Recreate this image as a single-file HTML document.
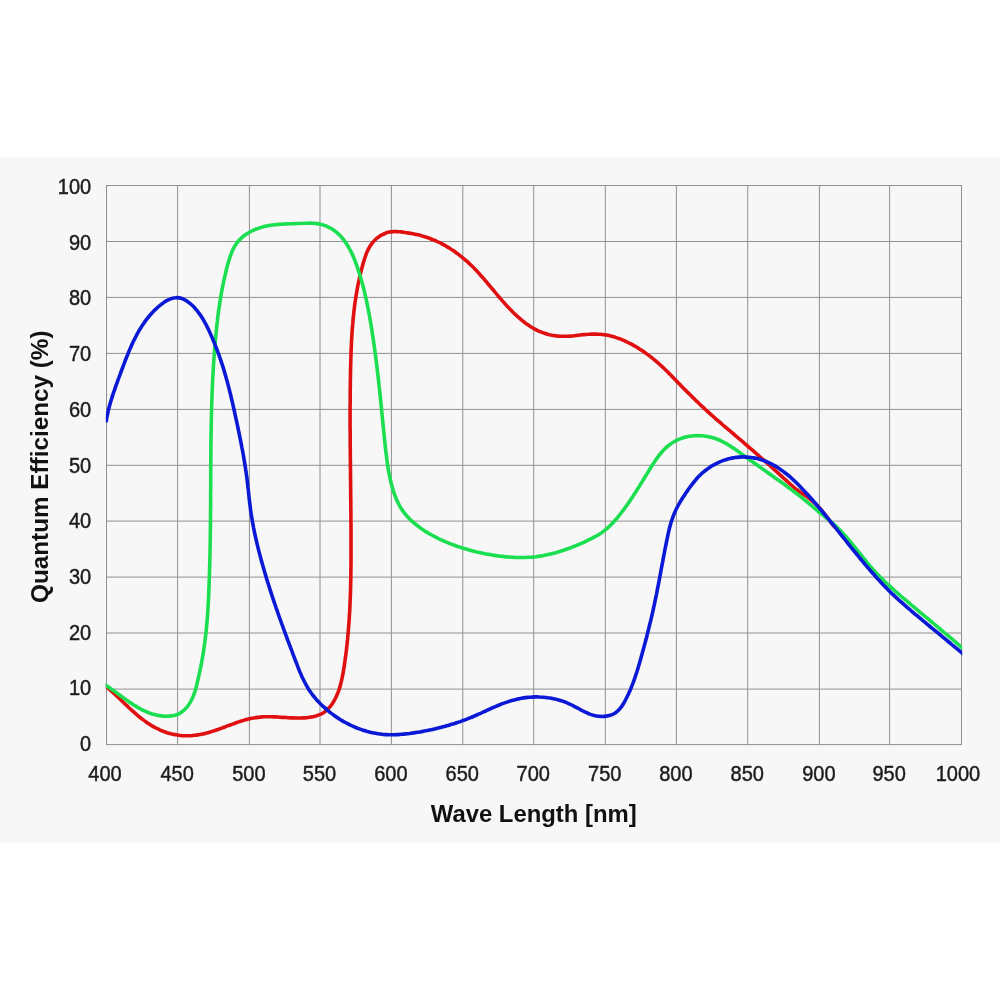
<!DOCTYPE html>
<html lang="en">
<head>
<meta charset="utf-8">
<title>Quantum Efficiency</title>
<style>
html,body{margin:0;padding:0;background:#fff;}
body{width:1000px;height:1000px;overflow:hidden;position:relative;font-family:"Liberation Sans",sans-serif;}
.band{position:absolute;left:0;top:157px;width:1000px;height:686px;background:#f7f7f7;}
svg{position:absolute;left:0;top:0;width:1000px;height:1000px;will-change:transform;}
.grid line{stroke:#909090;stroke-width:1;shape-rendering:auto;}
.tick text{font-family:"Liberation Sans",sans-serif;font-size:21.3px;fill:#1c1c1c;stroke:#1c1c1c;stroke-width:0.45;}
.axis{font-family:"Liberation Sans",sans-serif;font-weight:bold;fill:#111;}
.curve{fill:none;stroke-width:3.6;stroke-linecap:butt;stroke-linejoin:round;}
</style>
</head>
<body>
<div class="band"></div>
<svg viewBox="0 0 1000 1000" width="1000" height="1000">
<g class="grid">
<line x1="106.5" y1="185.0" x2="106.5" y2="745.1"/>
<line x1="177.6" y1="185.0" x2="177.6" y2="745.1"/>
<line x1="249.4" y1="185.0" x2="249.4" y2="745.1"/>
<line x1="320.0" y1="185.0" x2="320.0" y2="745.1"/>
<line x1="391.4" y1="185.0" x2="391.4" y2="745.1"/>
<line x1="462.8" y1="185.0" x2="462.8" y2="745.1"/>
<line x1="533.7" y1="185.0" x2="533.7" y2="745.1"/>
<line x1="605.3" y1="185.0" x2="605.3" y2="745.1"/>
<line x1="676.4" y1="185.0" x2="676.4" y2="745.1"/>
<line x1="747.7" y1="185.0" x2="747.7" y2="745.1"/>
<line x1="819.4" y1="185.0" x2="819.4" y2="745.1"/>
<line x1="889.6" y1="185.0" x2="889.6" y2="745.1"/>
<line x1="961.5" y1="185.0" x2="961.5" y2="745.1"/>
<line x1="106.0" y1="185.5" x2="962.0" y2="185.5"/>
<line x1="106.0" y1="241.5" x2="962.0" y2="241.5"/>
<line x1="106.0" y1="297.4" x2="962.0" y2="297.4"/>
<line x1="106.0" y1="353.4" x2="962.0" y2="353.4"/>
<line x1="106.0" y1="409.4" x2="962.0" y2="409.4"/>
<line x1="106.0" y1="465.3" x2="962.0" y2="465.3"/>
<line x1="106.0" y1="521.1" x2="962.0" y2="521.1"/>
<line x1="106.0" y1="577.1" x2="962.0" y2="577.1"/>
<line x1="106.0" y1="633.0" x2="962.0" y2="633.0"/>
<line x1="106.0" y1="689.1" x2="962.0" y2="689.1"/>
<line x1="106.0" y1="744.6" x2="962.0" y2="744.6"/>
</g>
<clipPath id="plot"><rect x="105.8" y="150" width="856.4" height="620"/></clipPath>
<g clip-path="url(#plot)">
<path class="curve" stroke="#e00f10" d="M104.0 684.7 C104.5 685.1 106.0 686.3 107.0 687.2 C108.0 688.0 109.0 688.9 109.9 689.8 C110.9 690.6 111.9 691.5 112.9 692.4 C113.9 693.3 114.8 694.2 115.8 695.1 C116.8 696.0 117.7 697.0 118.7 697.9 C119.7 698.8 120.6 699.7 121.6 700.7 C122.6 701.6 123.6 702.5 124.5 703.5 C125.5 704.4 126.5 705.3 127.5 706.2 C128.4 707.2 129.4 708.1 130.4 709.0 C131.4 709.9 132.4 710.8 133.4 711.7 C134.4 712.6 135.4 713.5 136.4 714.4 C137.4 715.2 138.5 716.1 139.5 717.0 C140.5 717.8 141.6 718.6 142.6 719.4 C143.7 720.2 144.8 721.0 145.8 721.8 C146.9 722.6 148.0 723.3 149.1 724.0 C150.2 724.8 151.4 725.5 152.5 726.1 C153.7 726.8 154.8 727.4 156.0 728.0 C157.2 728.7 158.4 729.2 159.6 729.8 C160.8 730.3 162.0 730.8 163.3 731.3 C164.5 731.8 165.8 732.2 167.0 732.7 C168.3 733.1 169.6 733.4 170.8 733.8 C172.1 734.1 173.4 734.4 174.7 734.6 C176.0 734.9 177.3 735.1 178.6 735.3 C180.0 735.5 181.3 735.6 182.6 735.7 C183.9 735.7 185.3 735.8 186.6 735.8 C187.9 735.8 189.2 735.7 190.6 735.7 C191.9 735.6 193.2 735.5 194.6 735.3 C195.9 735.2 197.2 735.0 198.6 734.8 C199.9 734.6 201.2 734.3 202.5 734.0 C203.8 733.8 205.1 733.4 206.4 733.1 C207.7 732.8 209.0 732.4 210.3 732.0 C211.6 731.6 212.9 731.2 214.2 730.8 C215.4 730.4 216.7 729.9 218.0 729.5 C219.3 729.0 220.5 728.6 221.8 728.1 C223.0 727.6 224.3 727.2 225.6 726.7 C226.8 726.2 228.1 725.7 229.3 725.3 C230.6 724.8 231.8 724.3 233.1 723.9 C234.4 723.4 235.6 723.0 236.9 722.5 C238.1 722.1 239.4 721.7 240.6 721.3 C241.9 720.9 243.2 720.5 244.4 720.1 C245.7 719.8 247.0 719.4 248.2 719.1 C249.5 718.8 250.8 718.5 252.1 718.2 C253.4 718.0 254.6 717.7 255.9 717.6 C257.2 717.4 258.5 717.2 259.8 717.1 C261.1 716.9 262.4 716.9 263.8 716.8 C265.1 716.7 266.4 716.7 267.7 716.7 C269.1 716.7 270.4 716.7 271.7 716.8 C273.1 716.8 274.4 716.9 275.8 716.9 C277.1 717.0 278.5 717.1 279.8 717.2 C281.2 717.3 282.5 717.4 283.9 717.4 C285.2 717.5 286.6 717.6 287.9 717.7 C289.3 717.8 290.6 717.9 292.0 717.9 C293.3 718.0 294.7 718.0 296.0 718.0 C297.4 718.1 298.7 718.1 300.1 718.0 C301.4 718.0 302.8 718.0 304.1 717.9 C305.4 717.8 306.8 717.7 308.1 717.5 C309.4 717.3 310.7 717.1 312.0 716.9 C313.4 716.6 314.7 716.3 315.9 716.0 C317.2 715.6 318.5 715.2 319.7 714.7 C320.9 714.2 322.0 713.6 323.1 712.9 C324.2 712.2 325.3 711.5 326.3 710.6 C327.3 709.8 328.2 708.8 329.1 707.8 C330.0 706.9 330.8 705.8 331.6 704.7 C332.4 703.6 333.1 702.4 333.8 701.3 C334.5 700.1 335.1 699.0 335.7 697.8 C336.3 696.6 336.8 695.4 337.3 694.1 C337.9 692.9 338.3 691.7 338.8 690.4 C339.2 689.2 339.6 687.9 340.0 686.6 C340.4 685.3 340.7 684.0 341.0 682.8 C341.4 681.5 341.7 680.2 341.9 678.8 C342.2 677.5 342.5 676.2 342.7 674.9 C343.0 673.6 343.2 672.3 343.4 670.9 C343.6 669.6 343.8 668.3 344.1 667.0 C344.3 665.7 344.5 664.3 344.7 663.0 C344.9 661.7 345.0 660.4 345.2 659.0 C345.4 657.7 345.6 656.4 345.8 655.1 C345.9 653.7 346.1 652.4 346.3 651.1 C346.4 649.8 346.6 648.4 346.7 647.1 C346.9 645.8 347.0 644.5 347.2 643.1 C347.3 641.8 347.4 640.5 347.6 639.2 C347.7 637.8 347.8 636.5 347.9 635.2 C348.1 633.8 348.2 632.5 348.3 631.2 C348.4 629.9 348.5 628.5 348.6 627.2 C348.7 625.9 348.8 624.6 348.9 623.2 C349.0 621.9 349.1 620.6 349.2 619.3 C349.3 617.9 349.4 616.6 349.4 615.3 C349.5 613.9 349.6 612.6 349.7 611.3 C349.7 610.0 349.8 608.6 349.9 607.3 C349.9 606.0 350.0 604.6 350.0 603.3 C350.1 602.0 350.2 600.7 350.2 599.3 C350.3 598.0 350.3 596.7 350.4 595.3 C350.4 594.0 350.4 592.7 350.5 591.3 C350.5 590.0 350.6 588.7 350.6 587.4 C350.6 586.0 350.7 584.7 350.7 583.4 C350.7 582.0 350.7 580.7 350.8 579.4 C350.8 578.0 350.8 576.7 350.8 575.4 C350.9 574.0 350.9 572.7 350.9 571.4 C350.9 570.0 350.9 568.7 350.9 567.4 C351.0 566.1 351.0 564.7 351.0 563.4 C351.0 562.1 351.0 560.7 351.0 559.4 C351.0 558.1 351.0 556.7 351.0 555.4 C351.0 554.1 351.0 552.7 351.0 551.4 C351.0 550.1 351.0 548.7 351.0 547.4 C351.0 546.1 351.0 544.7 351.0 543.4 C351.0 542.1 351.0 540.7 351.0 539.4 C351.0 538.1 351.0 536.7 351.0 535.4 C351.0 534.0 351.0 532.7 351.0 531.4 C351.0 530.0 351.0 528.7 351.0 527.4 C351.0 526.0 351.0 524.7 351.0 523.4 C350.9 522.0 350.9 520.7 350.9 519.4 C350.9 518.0 350.9 516.7 350.9 515.4 C350.9 514.0 350.9 512.7 350.9 511.3 C350.9 510.0 350.8 508.7 350.8 507.3 C350.8 506.0 350.8 504.7 350.8 503.3 C350.8 502.0 350.8 500.7 350.8 499.3 C350.7 498.0 350.7 496.6 350.7 495.3 C350.7 494.0 350.7 492.6 350.7 491.3 C350.7 490.0 350.7 488.6 350.6 487.3 C350.6 486.0 350.6 484.6 350.6 483.3 C350.6 481.9 350.6 480.6 350.6 479.3 C350.5 477.9 350.5 476.6 350.5 475.3 C350.5 473.9 350.5 472.6 350.5 471.3 C350.5 469.9 350.4 468.6 350.4 467.2 C350.4 465.9 350.4 464.6 350.4 463.2 C350.4 461.9 350.4 460.6 350.4 459.2 C350.3 457.9 350.3 456.5 350.3 455.2 C350.3 453.9 350.3 452.5 350.3 451.2 C350.3 449.9 350.3 448.5 350.2 447.2 C350.2 445.9 350.2 444.5 350.2 443.2 C350.2 441.9 350.2 440.5 350.2 439.2 C350.2 437.8 350.2 436.5 350.2 435.2 C350.2 433.8 350.2 432.5 350.2 431.2 C350.1 429.8 350.1 428.5 350.1 427.2 C350.1 425.8 350.1 424.5 350.1 423.2 C350.1 421.8 350.1 420.5 350.1 419.1 C350.1 417.8 350.1 416.5 350.1 415.1 C350.1 413.8 350.1 412.5 350.1 411.1 C350.1 409.8 350.1 408.5 350.1 407.1 C350.1 405.8 350.1 404.5 350.2 403.1 C350.2 401.8 350.2 400.5 350.2 399.1 C350.2 397.8 350.2 396.5 350.2 395.1 C350.2 393.8 350.2 392.5 350.2 391.1 C350.3 389.8 350.3 388.5 350.3 387.1 C350.3 385.8 350.3 384.5 350.3 383.1 C350.4 381.8 350.4 380.5 350.4 379.1 C350.4 377.8 350.4 376.5 350.5 375.2 C350.5 373.8 350.5 372.5 350.5 371.2 C350.6 369.8 350.6 368.5 350.6 367.2 C350.7 365.8 350.7 364.5 350.7 363.2 C350.8 361.9 350.8 360.5 350.8 359.2 C350.9 357.9 350.9 356.5 351.0 355.2 C351.0 353.9 351.0 352.6 351.1 351.2 C351.1 349.9 351.2 348.6 351.3 347.2 C351.3 345.9 351.4 344.6 351.4 343.3 C351.5 341.9 351.6 340.6 351.6 339.3 C351.7 338.0 351.8 336.6 351.9 335.3 C352.0 334.0 352.0 332.7 352.1 331.3 C352.2 330.0 352.3 328.7 352.4 327.4 C352.5 326.0 352.6 324.7 352.8 323.4 C352.9 322.1 353.0 320.7 353.1 319.4 C353.2 318.1 353.4 316.8 353.5 315.4 C353.6 314.1 353.8 312.8 353.9 311.5 C354.1 310.2 354.2 308.8 354.4 307.5 C354.6 306.2 354.7 304.9 354.9 303.6 C355.1 302.2 355.3 300.9 355.5 299.6 C355.7 298.3 355.9 297.0 356.1 295.6 C356.3 294.3 356.5 293.0 356.8 291.7 C357.0 290.4 357.2 289.1 357.5 287.7 C357.7 286.4 358.0 285.1 358.2 283.8 C358.5 282.5 358.8 281.2 359.1 279.8 C359.3 278.5 359.6 277.2 359.9 275.9 C360.2 274.6 360.6 273.3 360.9 272.0 C361.2 270.6 361.5 269.3 361.9 268.0 C362.2 266.7 362.6 265.4 363.0 264.1 C363.3 262.8 363.7 261.5 364.1 260.2 C364.5 258.9 364.9 257.6 365.4 256.3 C365.8 255.0 366.3 253.8 366.8 252.5 C367.4 251.3 367.9 250.1 368.5 248.9 C369.1 247.8 369.8 246.6 370.5 245.5 C371.2 244.4 372.0 243.4 372.8 242.4 C373.6 241.4 374.5 240.4 375.5 239.5 C376.4 238.6 377.5 237.7 378.6 237.0 C379.6 236.2 380.8 235.5 382.0 234.8 C383.1 234.2 384.4 233.6 385.6 233.2 C386.8 232.7 388.1 232.4 389.4 232.1 C390.7 231.8 392.0 231.7 393.3 231.6 C394.6 231.5 395.9 231.5 397.2 231.6 C398.5 231.6 399.9 231.8 401.2 231.9 C402.5 232.1 403.8 232.3 405.2 232.5 C406.5 232.6 407.8 232.9 409.2 233.1 C410.5 233.3 411.8 233.5 413.1 233.8 C414.5 234.1 415.8 234.3 417.1 234.6 C418.4 234.9 419.7 235.3 421.0 235.6 C422.3 236.0 423.6 236.3 424.9 236.7 C426.2 237.1 427.4 237.6 428.7 238.0 C429.9 238.5 431.2 239.0 432.4 239.5 C433.7 240.0 434.9 240.5 436.1 241.0 C437.3 241.6 438.5 242.2 439.7 242.7 C440.9 243.3 442.1 244.0 443.3 244.6 C444.5 245.2 445.6 245.9 446.8 246.6 C447.9 247.2 449.1 247.9 450.2 248.6 C451.3 249.4 452.5 250.1 453.6 250.8 C454.7 251.6 455.7 252.4 456.8 253.2 C457.9 253.9 459.0 254.7 460.0 255.6 C461.1 256.4 462.1 257.2 463.1 258.1 C464.1 258.9 465.2 259.8 466.1 260.7 C467.1 261.5 468.1 262.4 469.1 263.3 C470.1 264.2 471.0 265.1 472.0 266.1 C472.9 267.0 473.8 267.9 474.7 268.9 C475.7 269.8 476.6 270.8 477.5 271.8 C478.4 272.7 479.2 273.7 480.1 274.7 C481.0 275.7 481.9 276.7 482.8 277.7 C483.6 278.7 484.5 279.7 485.4 280.7 C486.2 281.7 487.1 282.7 487.9 283.7 C488.8 284.7 489.6 285.7 490.5 286.8 C491.4 287.8 492.2 288.8 493.1 289.8 C493.9 290.9 494.8 291.9 495.6 292.9 C496.5 293.9 497.4 295.0 498.2 296.0 C499.1 297.0 500.0 298.0 500.8 299.0 C501.7 300.1 502.6 301.1 503.5 302.1 C504.4 303.1 505.3 304.1 506.2 305.1 C507.1 306.1 508.0 307.1 509.0 308.1 C509.9 309.1 510.9 310.0 511.8 311.0 C512.8 312.0 513.7 312.9 514.7 313.9 C515.7 314.8 516.7 315.7 517.7 316.6 C518.7 317.5 519.7 318.4 520.8 319.3 C521.8 320.2 522.8 321.0 523.9 321.8 C524.9 322.7 526.0 323.5 527.1 324.2 C528.2 325.0 529.3 325.7 530.4 326.5 C531.5 327.2 532.6 327.9 533.8 328.5 C534.9 329.1 536.1 329.8 537.3 330.3 C538.4 330.9 539.6 331.5 540.8 331.9 C542.0 332.4 543.3 332.9 544.5 333.3 C545.7 333.7 547.0 334.1 548.3 334.4 C549.5 334.7 550.8 335.0 552.1 335.3 C553.4 335.5 554.7 335.7 556.0 335.9 C557.4 336.0 558.7 336.1 560.0 336.2 C561.3 336.3 562.7 336.3 564.0 336.3 C565.4 336.3 566.7 336.3 568.1 336.3 C569.4 336.2 570.8 336.1 572.1 336.0 C573.5 335.8 574.8 335.7 576.2 335.5 C577.5 335.4 578.9 335.2 580.2 335.0 C581.5 334.9 582.9 334.7 584.2 334.6 C585.6 334.5 586.9 334.3 588.2 334.3 C589.6 334.2 590.9 334.1 592.2 334.1 C593.6 334.1 594.9 334.1 596.2 334.1 C597.5 334.2 598.8 334.2 600.2 334.3 C601.5 334.4 602.8 334.5 604.1 334.7 C605.4 334.9 606.7 335.1 608.0 335.3 C609.3 335.6 610.5 335.9 611.8 336.2 C613.1 336.6 614.4 336.9 615.6 337.4 C616.9 337.8 618.1 338.2 619.4 338.7 C620.6 339.2 621.9 339.7 623.1 340.2 C624.3 340.7 625.5 341.3 626.7 341.9 C628.0 342.4 629.2 343.0 630.3 343.7 C631.5 344.3 632.7 344.9 633.9 345.6 C635.1 346.2 636.2 346.9 637.4 347.6 C638.5 348.3 639.7 349.0 640.8 349.8 C641.9 350.5 643.0 351.2 644.1 352.0 C645.3 352.8 646.3 353.6 647.4 354.4 C648.5 355.2 649.6 356.0 650.6 356.8 C651.7 357.6 652.7 358.4 653.8 359.3 C654.8 360.1 655.8 361.0 656.8 361.9 C657.8 362.7 658.8 363.6 659.8 364.5 C660.8 365.4 661.7 366.3 662.7 367.2 C663.7 368.1 664.6 369.0 665.6 370.0 C666.5 370.9 667.4 371.8 668.4 372.7 C669.3 373.7 670.2 374.6 671.2 375.5 C672.1 376.5 673.0 377.4 673.9 378.4 C674.9 379.3 675.8 380.3 676.7 381.2 C677.6 382.2 678.6 383.1 679.5 384.1 C680.4 385.0 681.3 386.0 682.3 387.0 C683.2 387.9 684.2 388.9 685.1 389.8 C686.0 390.8 687.0 391.7 687.9 392.7 C688.9 393.6 689.8 394.6 690.8 395.5 C691.8 396.5 692.7 397.4 693.7 398.3 C694.6 399.3 695.6 400.2 696.6 401.2 C697.6 402.1 698.5 403.0 699.5 404.0 C700.5 404.9 701.4 405.8 702.4 406.7 C703.4 407.6 704.4 408.6 705.4 409.5 C706.4 410.4 707.3 411.3 708.3 412.2 C709.3 413.1 710.3 414.0 711.3 414.9 C712.3 415.7 713.3 416.6 714.3 417.5 C715.3 418.4 716.3 419.2 717.3 420.1 C718.3 421.0 719.3 421.8 720.3 422.7 C721.3 423.6 722.3 424.4 723.3 425.3 C724.3 426.1 725.3 427.0 726.3 427.9 C727.3 428.7 728.3 429.6 729.3 430.4 C730.3 431.3 731.4 432.1 732.4 433.0 C733.4 433.8 734.4 434.7 735.4 435.6 C736.4 436.4 737.4 437.3 738.4 438.1 C739.4 439.0 740.4 439.9 741.5 440.7 C742.5 441.6 743.5 442.5 744.5 443.3 C745.5 444.2 746.5 445.1 747.5 446.0 C748.5 446.8 749.5 447.7 750.6 448.6 C751.6 449.5 752.6 450.3 753.6 451.2 C754.6 452.1 755.6 453.0 756.6 453.9 C757.6 454.7 758.6 455.6 759.6 456.5 C760.6 457.4 761.6 458.3 762.6 459.2 C763.6 460.1 764.6 461.0 765.7 461.8 C766.7 462.7 767.7 463.6 768.7 464.5 C769.7 465.4 770.7 466.3 771.6 467.2 C772.6 468.1 773.6 469.0 774.6 469.9 C775.6 470.8 776.6 471.7 777.6 472.6 C778.6 473.5 779.6 474.4 780.6 475.3 C781.6 476.2 782.6 477.1 783.5 478.0 C784.5 478.9 785.5 479.8 786.5 480.7 C787.5 481.6 788.4 482.5 789.4 483.4 C790.4 484.2 791.4 485.1 792.4 486.0 C793.4 486.9 794.4 487.7 795.4 488.6 C796.5 489.4 797.5 490.2 798.6 491.0 C799.6 491.8 800.7 492.6 801.8 493.3 C802.9 494.1 804.0 494.8 805.1 495.6 C806.2 496.3 807.3 497.0 808.4 497.8 C809.4 498.6 810.5 499.4 811.5 500.3 C812.5 501.1 813.5 502.0 814.5 502.9 C815.5 503.8 816.4 504.7 817.4 505.7 C818.3 506.7 819.2 507.7 820.1 508.7 C821.0 509.7 821.9 510.7 822.7 511.7 C823.6 512.7 824.4 513.8 825.2 514.8 C826.1 515.9 826.9 517.0 827.7 518.0 C828.5 519.1 829.2 520.2 830.0 521.2 C830.8 522.3 831.6 523.4 832.5 524.4 C833.3 525.5 834.5 527.0 834.9 527.5"/>
<path class="curve" stroke="#1bde50" d="M104.0 684.2 C104.5 684.5 106.2 685.6 107.3 686.3 C108.4 687.0 109.5 687.7 110.5 688.5 C111.6 689.2 112.7 690.0 113.8 690.8 C114.9 691.5 116.0 692.3 117.0 693.1 C118.1 693.9 119.2 694.7 120.3 695.5 C121.4 696.3 122.5 697.1 123.5 697.9 C124.6 698.7 125.7 699.5 126.8 700.3 C127.9 701.0 129.0 701.8 130.1 702.6 C131.3 703.3 132.4 704.1 133.5 704.8 C134.6 705.5 135.8 706.2 136.9 706.9 C138.1 707.6 139.2 708.3 140.4 708.9 C141.6 709.5 142.7 710.1 143.9 710.7 C145.1 711.3 146.3 711.8 147.6 712.3 C148.8 712.8 150.1 713.2 151.3 713.7 C152.6 714.1 153.9 714.4 155.2 714.8 C156.5 715.1 157.8 715.4 159.1 715.6 C160.4 715.8 161.8 716.0 163.1 716.1 C164.4 716.2 165.8 716.2 167.1 716.2 C168.5 716.2 169.8 716.1 171.2 715.9 C172.5 715.8 173.8 715.5 175.1 715.2 C176.3 714.8 177.6 714.4 178.8 713.8 C179.9 713.2 181.1 712.5 182.1 711.8 C183.2 711.0 184.2 710.1 185.1 709.1 C186.1 708.1 187.0 707.1 187.8 706.0 C188.6 704.9 189.4 703.7 190.1 702.6 C190.8 701.4 191.4 700.2 192.0 699.0 C192.6 697.8 193.1 696.6 193.6 695.4 C194.0 694.1 194.5 692.9 194.9 691.7 C195.3 690.4 195.6 689.2 196.0 687.9 C196.3 686.7 196.6 685.4 196.9 684.1 C197.2 682.9 197.5 681.6 197.8 680.3 C198.1 679.0 198.4 677.7 198.7 676.4 C199.0 675.1 199.3 673.8 199.6 672.5 C199.8 671.2 200.1 669.9 200.4 668.6 C200.7 667.3 200.9 666.0 201.2 664.7 C201.4 663.3 201.7 662.0 201.9 660.7 C202.2 659.4 202.4 658.0 202.6 656.7 C202.9 655.4 203.1 654.1 203.3 652.7 C203.5 651.4 203.7 650.1 203.9 648.7 C204.1 647.4 204.3 646.1 204.5 644.8 C204.7 643.4 204.8 642.1 205.0 640.8 C205.2 639.4 205.3 638.1 205.5 636.8 C205.7 635.5 205.8 634.1 205.9 632.8 C206.1 631.5 206.2 630.1 206.4 628.8 C206.5 627.5 206.6 626.1 206.7 624.8 C206.8 623.5 207.0 622.1 207.1 620.8 C207.2 619.5 207.3 618.2 207.4 616.8 C207.5 615.5 207.6 614.2 207.7 612.8 C207.8 611.5 207.8 610.2 207.9 608.8 C208.0 607.5 208.1 606.2 208.2 604.8 C208.2 603.5 208.3 602.2 208.4 600.8 C208.4 599.5 208.5 598.2 208.6 596.9 C208.6 595.5 208.7 594.2 208.8 592.9 C208.8 591.5 208.9 590.2 208.9 588.9 C209.0 587.5 209.0 586.2 209.1 584.9 C209.1 583.5 209.2 582.2 209.2 580.9 C209.3 579.5 209.3 578.2 209.4 576.9 C209.4 575.5 209.5 574.2 209.5 572.9 C209.5 571.5 209.6 570.2 209.6 568.9 C209.7 567.5 209.7 566.2 209.7 564.9 C209.8 563.5 209.8 562.2 209.8 560.9 C209.9 559.5 209.9 558.2 209.9 556.9 C210.0 555.5 210.0 554.2 210.0 552.9 C210.0 551.5 210.1 550.2 210.1 548.9 C210.1 547.5 210.1 546.2 210.2 544.9 C210.2 543.5 210.2 542.2 210.2 540.9 C210.2 539.5 210.3 538.2 210.3 536.8 C210.3 535.5 210.3 534.2 210.3 532.8 C210.4 531.5 210.4 530.2 210.4 528.8 C210.4 527.5 210.4 526.2 210.4 524.8 C210.4 523.5 210.5 522.2 210.5 520.8 C210.5 519.5 210.5 518.2 210.5 516.8 C210.5 515.5 210.5 514.2 210.5 512.8 C210.5 511.5 210.5 510.2 210.6 508.8 C210.6 507.5 210.6 506.1 210.6 504.8 C210.6 503.5 210.6 502.1 210.6 500.8 C210.6 499.5 210.6 498.1 210.6 496.8 C210.6 495.5 210.6 494.1 210.6 492.8 C210.6 491.5 210.6 490.1 210.7 488.8 C210.7 487.5 210.7 486.1 210.7 484.8 C210.7 483.5 210.7 482.1 210.7 480.8 C210.7 479.4 210.7 478.1 210.7 476.8 C210.7 475.4 210.7 474.1 210.7 472.8 C210.7 471.4 210.7 470.1 210.7 468.8 C210.8 467.4 210.8 466.1 210.8 464.8 C210.8 463.4 210.8 462.1 210.8 460.8 C210.8 459.4 210.8 458.1 210.8 456.8 C210.8 455.4 210.8 454.1 210.9 452.8 C210.9 451.4 210.9 450.1 210.9 448.7 C210.9 447.4 210.9 446.1 210.9 444.7 C210.9 443.4 211.0 442.1 211.0 440.7 C211.0 439.4 211.0 438.1 211.0 436.7 C211.0 435.4 211.1 434.1 211.1 432.7 C211.1 431.4 211.1 430.1 211.2 428.7 C211.2 427.4 211.2 426.1 211.2 424.7 C211.3 423.4 211.3 422.1 211.3 420.7 C211.3 419.4 211.4 418.1 211.4 416.7 C211.4 415.4 211.5 414.1 211.5 412.7 C211.5 411.4 211.6 410.1 211.6 408.7 C211.6 407.4 211.7 406.1 211.7 404.7 C211.8 403.4 211.8 402.1 211.8 400.7 C211.9 399.4 211.9 398.1 212.0 396.7 C212.0 395.4 212.1 394.1 212.1 392.7 C212.2 391.4 212.2 390.1 212.3 388.7 C212.3 387.4 212.4 386.1 212.5 384.7 C212.5 383.4 212.6 382.1 212.6 380.7 C212.7 379.4 212.8 378.1 212.8 376.8 C212.9 375.4 213.0 374.1 213.1 372.8 C213.1 371.4 213.2 370.1 213.3 368.8 C213.4 367.4 213.4 366.1 213.5 364.8 C213.6 363.4 213.7 362.1 213.8 360.8 C213.9 359.4 214.0 358.1 214.1 356.8 C214.2 355.5 214.3 354.1 214.4 352.8 C214.5 351.5 214.6 350.1 214.7 348.8 C214.8 347.5 214.9 346.1 215.0 344.8 C215.1 343.5 215.2 342.2 215.3 340.8 C215.4 339.5 215.6 338.2 215.7 336.8 C215.8 335.5 215.9 334.2 216.1 332.9 C216.2 331.5 216.3 330.2 216.5 328.9 C216.6 327.5 216.8 326.2 216.9 324.9 C217.1 323.6 217.2 322.2 217.4 320.9 C217.5 319.6 217.7 318.3 217.8 316.9 C218.0 315.6 218.2 314.3 218.3 313.0 C218.5 311.6 218.7 310.3 218.9 309.0 C219.1 307.7 219.3 306.3 219.5 305.0 C219.7 303.7 219.9 302.4 220.1 301.1 C220.3 299.7 220.5 298.4 220.7 297.1 C220.9 295.8 221.2 294.5 221.4 293.2 C221.6 291.8 221.9 290.5 222.1 289.2 C222.4 287.9 222.6 286.6 222.9 285.3 C223.2 284.0 223.4 282.7 223.7 281.3 C224.0 280.0 224.3 278.7 224.6 277.4 C224.9 276.1 225.2 274.8 225.5 273.5 C225.8 272.2 226.1 270.9 226.4 269.6 C226.8 268.3 227.1 267.0 227.4 265.7 C227.8 264.4 228.1 263.1 228.5 261.8 C228.9 260.5 229.3 259.2 229.7 257.9 C230.1 256.7 230.5 255.4 231.0 254.2 C231.5 252.9 231.9 251.7 232.5 250.5 C233.0 249.3 233.6 248.1 234.3 247.0 C234.9 245.9 235.6 244.7 236.3 243.7 C237.1 242.6 237.9 241.6 238.7 240.6 C239.6 239.6 240.6 238.7 241.6 237.8 C242.6 236.9 243.6 236.0 244.7 235.2 C245.8 234.4 247.0 233.7 248.2 233.0 C249.3 232.3 250.6 231.6 251.8 231.0 C253.0 230.4 254.3 229.8 255.5 229.3 C256.8 228.8 258.0 228.4 259.3 228.0 C260.6 227.5 261.8 227.2 263.1 226.8 C264.4 226.5 265.6 226.2 266.9 225.9 C268.2 225.7 269.5 225.5 270.8 225.3 C272.0 225.1 273.3 224.9 274.6 224.7 C275.9 224.6 277.2 224.5 278.6 224.4 C279.9 224.3 281.2 224.2 282.5 224.1 C283.8 224.0 285.1 224.0 286.5 223.9 C287.8 223.8 289.2 223.8 290.5 223.8 C291.8 223.7 293.2 223.7 294.5 223.6 C295.9 223.6 297.3 223.5 298.6 223.5 C300.0 223.4 301.4 223.3 302.8 223.3 C304.1 223.2 305.5 223.2 306.9 223.2 C308.3 223.1 309.6 223.1 311.0 223.1 C312.4 223.2 313.7 223.2 315.1 223.4 C316.4 223.5 317.7 223.7 319.0 223.9 C320.3 224.2 321.6 224.5 322.9 224.9 C324.2 225.3 325.4 225.7 326.6 226.2 C327.8 226.8 329.0 227.3 330.2 228.0 C331.3 228.6 332.4 229.3 333.5 230.0 C334.6 230.8 335.6 231.6 336.6 232.4 C337.6 233.2 338.5 234.1 339.5 235.0 C340.4 235.9 341.3 236.9 342.1 237.9 C342.9 238.9 343.8 239.9 344.5 240.9 C345.3 242.0 346.1 243.1 346.8 244.2 C347.5 245.3 348.2 246.4 348.8 247.6 C349.5 248.7 350.1 249.9 350.7 251.1 C351.3 252.3 351.9 253.5 352.5 254.8 C353.0 256.0 353.6 257.3 354.1 258.5 C354.6 259.8 355.1 261.1 355.6 262.3 C356.1 263.6 356.5 264.9 357.0 266.2 C357.4 267.5 357.9 268.8 358.3 270.1 C358.7 271.3 359.1 272.6 359.5 273.9 C359.9 275.2 360.3 276.5 360.7 277.8 C361.1 279.1 361.5 280.4 361.8 281.7 C362.2 283.0 362.5 284.2 362.9 285.5 C363.2 286.8 363.5 288.1 363.9 289.4 C364.2 290.7 364.5 292.0 364.8 293.3 C365.1 294.6 365.4 295.9 365.7 297.2 C366.0 298.5 366.3 299.8 366.6 301.1 C366.8 302.4 367.1 303.7 367.4 305.0 C367.6 306.3 367.9 307.6 368.1 308.9 C368.4 310.2 368.6 311.5 368.9 312.8 C369.1 314.1 369.4 315.4 369.6 316.7 C369.8 318.0 370.0 319.3 370.3 320.6 C370.5 321.9 370.7 323.2 370.9 324.5 C371.2 325.8 371.4 327.1 371.6 328.5 C371.8 329.8 372.0 331.1 372.2 332.4 C372.4 333.7 372.6 335.0 372.8 336.3 C373.0 337.7 373.2 339.0 373.4 340.3 C373.6 341.6 373.8 342.9 374.0 344.3 C374.2 345.6 374.3 346.9 374.5 348.2 C374.7 349.5 374.9 350.9 375.1 352.2 C375.2 353.5 375.4 354.8 375.6 356.2 C375.8 357.5 375.9 358.8 376.1 360.1 C376.3 361.5 376.4 362.8 376.6 364.1 C376.7 365.4 376.9 366.8 377.1 368.1 C377.2 369.4 377.4 370.7 377.5 372.1 C377.7 373.4 377.8 374.7 378.0 376.1 C378.2 377.4 378.3 378.7 378.5 380.0 C378.6 381.4 378.8 382.7 378.9 384.0 C379.0 385.4 379.2 386.7 379.3 388.0 C379.5 389.4 379.6 390.7 379.8 392.0 C379.9 393.4 380.0 394.7 380.2 396.0 C380.3 397.3 380.5 398.7 380.6 400.0 C380.7 401.3 380.9 402.7 381.0 404.0 C381.1 405.3 381.3 406.7 381.4 408.0 C381.5 409.3 381.7 410.7 381.8 412.0 C381.9 413.3 382.1 414.6 382.2 416.0 C382.3 417.3 382.5 418.6 382.6 420.0 C382.7 421.3 382.9 422.6 383.0 424.0 C383.1 425.3 383.3 426.6 383.4 427.9 C383.5 429.3 383.7 430.6 383.8 431.9 C383.9 433.2 384.1 434.6 384.2 435.9 C384.3 437.2 384.5 438.5 384.6 439.9 C384.8 441.2 384.9 442.5 385.0 443.8 C385.2 445.2 385.3 446.5 385.4 447.8 C385.6 449.1 385.7 450.4 385.9 451.8 C386.0 453.1 386.2 454.4 386.4 455.7 C386.5 457.0 386.7 458.4 386.9 459.7 C387.0 461.0 387.2 462.3 387.4 463.6 C387.6 464.9 387.8 466.3 388.0 467.6 C388.2 468.9 388.5 470.2 388.7 471.5 C388.9 472.8 389.2 474.2 389.5 475.5 C389.7 476.8 390.0 478.1 390.3 479.4 C390.6 480.7 390.9 482.0 391.2 483.3 C391.5 484.7 391.9 486.0 392.3 487.3 C392.6 488.6 393.0 489.9 393.4 491.1 C393.8 492.4 394.3 493.7 394.7 494.9 C395.2 496.2 395.7 497.5 396.2 498.7 C396.7 499.9 397.2 501.1 397.8 502.3 C398.4 503.5 399.0 504.7 399.6 505.8 C400.3 507.0 401.0 508.1 401.7 509.2 C402.4 510.3 403.1 511.4 403.9 512.4 C404.7 513.4 405.6 514.5 406.4 515.5 C407.3 516.4 408.2 517.4 409.1 518.4 C410.0 519.3 410.9 520.2 411.9 521.1 C412.9 522.0 413.9 522.9 414.9 523.7 C415.9 524.6 417.0 525.4 418.1 526.2 C419.1 527.1 420.2 527.8 421.3 528.6 C422.4 529.4 423.6 530.1 424.7 530.9 C425.8 531.6 427.0 532.3 428.2 533.0 C429.3 533.7 430.5 534.4 431.7 535.0 C432.9 535.7 434.1 536.3 435.3 536.9 C436.5 537.6 437.7 538.2 439.0 538.8 C440.2 539.3 441.4 539.9 442.6 540.5 C443.8 541.0 445.1 541.6 446.3 542.1 C447.5 542.6 448.8 543.1 450.0 543.6 C451.2 544.1 452.5 544.6 453.7 545.0 C455.0 545.5 456.2 545.9 457.5 546.4 C458.7 546.8 460.0 547.2 461.2 547.6 C462.5 548.0 463.7 548.4 465.0 548.8 C466.3 549.2 467.5 549.5 468.8 549.9 C470.1 550.2 471.4 550.6 472.6 550.9 C473.9 551.2 475.2 551.5 476.5 551.9 C477.8 552.2 479.1 552.5 480.4 552.7 C481.7 553.0 483.0 553.3 484.3 553.6 C485.6 553.8 486.9 554.1 488.2 554.3 C489.5 554.6 490.8 554.8 492.2 555.0 C493.5 555.2 494.8 555.4 496.1 555.6 C497.5 555.8 498.8 556.0 500.1 556.2 C501.5 556.3 502.8 556.5 504.1 556.6 C505.5 556.8 506.8 556.9 508.2 557.0 C509.5 557.1 510.8 557.2 512.2 557.3 C513.5 557.4 514.9 557.4 516.2 557.5 C517.5 557.5 518.9 557.5 520.2 557.5 C521.6 557.5 522.9 557.5 524.2 557.5 C525.6 557.5 526.9 557.4 528.2 557.3 C529.6 557.3 530.9 557.2 532.2 557.1 C533.6 556.9 534.9 556.8 536.2 556.7 C537.5 556.5 538.9 556.3 540.2 556.1 C541.5 555.9 542.8 555.7 544.1 555.4 C545.4 555.2 546.7 554.9 548.0 554.6 C549.3 554.3 550.6 554.0 551.9 553.7 C553.2 553.4 554.4 553.0 555.7 552.7 C557.0 552.3 558.3 551.9 559.6 551.5 C560.8 551.1 562.1 550.7 563.4 550.3 C564.6 549.9 565.9 549.5 567.1 549.0 C568.4 548.6 569.6 548.1 570.9 547.7 C572.1 547.2 573.4 546.7 574.6 546.2 C575.9 545.7 577.1 545.2 578.3 544.7 C579.6 544.2 580.8 543.7 582.0 543.1 C583.2 542.6 584.4 542.0 585.6 541.5 C586.8 540.9 588.1 540.3 589.2 539.7 C590.4 539.1 591.6 538.5 592.8 537.9 C594.0 537.3 595.2 536.6 596.4 536.0 C597.5 535.3 598.7 534.6 599.8 533.9 C601.0 533.2 602.1 532.4 603.1 531.6 C604.2 530.8 605.3 530.0 606.3 529.2 C607.3 528.3 608.3 527.4 609.2 526.5 C610.2 525.6 611.1 524.6 612.0 523.6 C613.0 522.7 613.9 521.7 614.7 520.7 C615.6 519.7 616.5 518.7 617.4 517.7 C618.2 516.6 619.1 515.6 619.9 514.5 C620.7 513.5 621.5 512.4 622.4 511.4 C623.2 510.3 624.0 509.2 624.7 508.2 C625.5 507.1 626.3 506.0 627.1 504.9 C627.9 503.8 628.6 502.7 629.4 501.6 C630.1 500.5 630.9 499.4 631.6 498.3 C632.3 497.2 633.1 496.1 633.8 495.0 C634.5 493.9 635.2 492.7 636.0 491.6 C636.7 490.5 637.4 489.4 638.1 488.2 C638.8 487.1 639.5 486.0 640.2 484.8 C640.9 483.7 641.6 482.6 642.3 481.4 C643.0 480.3 643.7 479.2 644.4 478.0 C645.1 476.9 645.8 475.7 646.5 474.6 C647.2 473.5 647.9 472.3 648.6 471.2 C649.3 470.0 650.0 468.9 650.7 467.8 C651.4 466.6 652.1 465.5 652.9 464.3 C653.6 463.2 654.3 462.1 655.1 461.0 C655.8 459.9 656.6 458.8 657.3 457.7 C658.1 456.6 658.9 455.6 659.8 454.5 C660.6 453.5 661.4 452.5 662.3 451.5 C663.2 450.5 664.1 449.6 665.1 448.6 C666.0 447.7 667.0 446.8 668.0 446.0 C669.1 445.2 670.1 444.4 671.2 443.6 C672.3 442.8 673.4 442.1 674.6 441.5 C675.7 440.8 676.9 440.2 678.1 439.6 C679.3 439.1 680.6 438.6 681.8 438.2 C683.1 437.7 684.4 437.3 685.7 437.0 C687.0 436.7 688.3 436.4 689.6 436.2 C690.9 436.0 692.3 435.8 693.6 435.7 C695.0 435.6 696.3 435.6 697.7 435.6 C699.0 435.6 700.4 435.7 701.7 435.8 C703.0 435.9 704.4 436.0 705.7 436.2 C707.1 436.4 708.4 436.7 709.7 437.0 C711.0 437.3 712.3 437.6 713.6 438.0 C714.8 438.4 716.1 438.8 717.3 439.3 C718.6 439.8 719.8 440.3 721.0 440.9 C722.2 441.4 723.3 442.0 724.5 442.7 C725.7 443.3 726.8 443.9 727.9 444.6 C729.1 445.3 730.2 446.0 731.3 446.7 C732.4 447.4 733.5 448.2 734.6 448.9 C735.7 449.7 736.8 450.5 737.9 451.2 C739.0 452.0 740.1 452.8 741.2 453.6 C742.3 454.4 743.3 455.2 744.4 456.0 C745.5 456.8 746.6 457.6 747.7 458.3 C748.8 459.1 749.8 459.9 750.9 460.7 C752.0 461.5 753.1 462.2 754.2 463.0 C755.3 463.8 756.4 464.6 757.5 465.3 C758.6 466.1 759.7 466.9 760.8 467.6 C761.8 468.4 762.9 469.2 764.0 469.9 C765.1 470.7 766.2 471.5 767.3 472.2 C768.4 473.0 769.5 473.8 770.6 474.5 C771.7 475.3 772.8 476.1 773.8 476.9 C774.9 477.6 776.0 478.4 777.1 479.2 C778.2 479.9 779.3 480.7 780.4 481.5 C781.4 482.3 782.5 483.1 783.6 483.8 C784.7 484.6 785.7 485.4 786.8 486.2 C787.9 487.0 789.0 487.8 790.0 488.6 C791.1 489.4 792.2 490.2 793.2 491.0 C794.3 491.8 795.3 492.6 796.4 493.4 C797.4 494.2 798.5 495.0 799.5 495.9 C800.6 496.7 801.6 497.5 802.7 498.4 C803.7 499.2 804.7 500.0 805.8 500.9 C806.8 501.7 807.8 502.6 808.8 503.4 C809.9 504.3 810.9 505.2 811.9 506.0 C812.9 506.9 813.9 507.7 815.0 508.6 C816.0 509.5 817.0 510.3 818.0 511.2 C819.1 512.0 820.1 512.9 821.1 513.7 C822.2 514.6 823.2 515.4 824.2 516.2 C825.3 517.1 826.3 517.9 827.3 518.8 C828.4 519.6 829.4 520.4 830.4 521.3 C831.4 522.2 832.4 523.0 833.4 523.9 C834.4 524.8 835.4 525.7 836.4 526.6 C837.3 527.5 838.3 528.4 839.2 529.4 C840.2 530.3 841.1 531.3 842.0 532.2 C842.9 533.2 843.8 534.2 844.7 535.2 C845.6 536.2 846.5 537.2 847.3 538.2 C848.2 539.2 849.1 540.2 849.9 541.2 C850.8 542.2 851.6 543.3 852.5 544.3 C853.3 545.3 854.2 546.4 855.0 547.4 C855.9 548.4 856.7 549.5 857.5 550.5 C858.4 551.6 859.2 552.6 860.0 553.7 C860.9 554.7 861.7 555.8 862.5 556.8 C863.4 557.9 864.2 558.9 865.1 560.0 C865.9 561.0 866.8 562.0 867.6 563.1 C868.5 564.1 869.3 565.1 870.2 566.1 C871.1 567.1 871.9 568.2 872.8 569.2 C873.7 570.2 874.6 571.2 875.5 572.1 C876.4 573.1 877.3 574.1 878.2 575.1 C879.2 576.0 880.1 577.0 881.0 577.9 C882.0 578.9 882.9 579.8 883.9 580.7 C884.8 581.7 885.8 582.6 886.8 583.5 C887.7 584.4 888.7 585.3 889.7 586.2 C890.7 587.1 891.7 588.0 892.7 588.9 C893.7 589.8 894.7 590.7 895.7 591.6 C896.7 592.4 897.7 593.3 898.7 594.2 C899.7 595.1 900.7 595.9 901.7 596.8 C902.7 597.7 903.8 598.5 904.8 599.4 C905.8 600.3 906.8 601.1 907.8 602.0 C908.9 602.8 909.9 603.7 910.9 604.6 C911.9 605.4 913.0 606.3 914.0 607.1 C915.0 608.0 916.0 608.8 917.0 609.7 C918.1 610.6 919.1 611.4 920.1 612.3 C921.1 613.1 922.2 614.0 923.2 614.8 C924.2 615.7 925.2 616.6 926.3 617.4 C927.3 618.3 928.3 619.1 929.3 620.0 C930.3 620.8 931.4 621.7 932.4 622.5 C933.4 623.4 934.4 624.3 935.5 625.1 C936.5 626.0 937.5 626.8 938.5 627.7 C939.5 628.6 940.6 629.4 941.6 630.3 C942.6 631.1 943.6 632.0 944.6 632.8 C945.7 633.7 946.7 634.6 947.7 635.4 C948.7 636.3 949.7 637.2 950.7 638.0 C951.8 638.9 952.8 639.7 953.8 640.6 C954.8 641.5 955.8 642.3 956.8 643.2 C957.9 644.1 958.9 644.9 959.9 645.8 C960.9 646.7 961.9 647.6 962.9 648.4 C963.9 649.3 965.5 650.6 966.0 651.0"/>
<path class="curve" stroke="#0a19d6" d="M106.1 422.3 C106.2 421.6 106.5 419.6 106.7 418.3 C106.9 417.0 107.2 415.7 107.5 414.4 C107.7 413.1 108.0 411.8 108.3 410.5 C108.6 409.2 109.0 407.9 109.3 406.6 C109.7 405.3 110.0 404.1 110.4 402.8 C110.7 401.5 111.1 400.2 111.5 399.0 C111.9 397.7 112.3 396.4 112.7 395.1 C113.1 393.9 113.6 392.6 114.0 391.4 C114.4 390.1 114.9 388.8 115.3 387.6 C115.8 386.3 116.2 385.0 116.7 383.8 C117.1 382.5 117.6 381.3 118.0 380.0 C118.5 378.8 119.0 377.5 119.4 376.3 C119.9 375.0 120.4 373.8 120.8 372.5 C121.3 371.2 121.7 370.0 122.2 368.7 C122.7 367.5 123.1 366.2 123.6 365.0 C124.1 363.7 124.6 362.5 125.0 361.2 C125.5 360.0 126.0 358.8 126.5 357.5 C127.0 356.3 127.5 355.0 128.0 353.8 C128.5 352.6 129.0 351.3 129.5 350.1 C130.0 348.9 130.5 347.7 131.1 346.5 C131.6 345.2 132.2 344.0 132.7 342.8 C133.3 341.6 133.9 340.4 134.5 339.2 C135.1 338.1 135.7 336.9 136.3 335.7 C136.9 334.5 137.5 333.4 138.2 332.2 C138.8 331.1 139.5 329.9 140.2 328.8 C140.9 327.6 141.6 326.5 142.3 325.4 C143.1 324.3 143.8 323.2 144.6 322.1 C145.4 321.0 146.2 319.9 147.0 318.9 C147.8 317.8 148.6 316.8 149.5 315.8 C150.4 314.7 151.3 313.7 152.2 312.7 C153.1 311.8 154.1 310.8 155.0 309.8 C156.0 308.9 157.0 308.0 158.1 307.0 C159.1 306.1 160.2 305.2 161.3 304.4 C162.4 303.5 163.5 302.7 164.6 301.9 C165.8 301.2 167.0 300.5 168.2 299.9 C169.3 299.3 170.6 298.7 171.8 298.4 C173.0 298.0 174.3 297.7 175.5 297.7 C176.8 297.6 178.1 297.7 179.3 297.9 C180.6 298.1 181.9 298.5 183.1 299.0 C184.3 299.6 185.6 300.2 186.7 300.9 C187.9 301.7 189.0 302.5 190.0 303.4 C191.1 304.2 192.1 305.2 193.0 306.1 C194.0 307.1 194.9 308.1 195.8 309.1 C196.6 310.1 197.5 311.1 198.2 312.1 C199.0 313.1 199.8 314.2 200.5 315.2 C201.2 316.3 201.9 317.4 202.6 318.5 C203.3 319.6 203.9 320.7 204.5 321.8 C205.2 323.0 205.8 324.1 206.4 325.3 C206.9 326.4 207.5 327.6 208.1 328.8 C208.7 330.0 209.2 331.2 209.8 332.4 C210.3 333.6 210.9 334.8 211.4 336.0 C211.9 337.2 212.5 338.5 213.0 339.7 C213.5 340.9 214.0 342.2 214.5 343.4 C215.0 344.7 215.5 346.0 216.0 347.2 C216.5 348.5 217.0 349.8 217.5 351.0 C217.9 352.3 218.4 353.6 218.9 354.9 C219.3 356.1 219.8 357.4 220.2 358.7 C220.7 360.0 221.1 361.3 221.5 362.5 C221.9 363.8 222.4 365.1 222.8 366.4 C223.2 367.7 223.6 369.0 224.0 370.3 C224.3 371.5 224.7 372.8 225.1 374.1 C225.5 375.4 225.8 376.7 226.2 378.0 C226.6 379.3 226.9 380.6 227.3 381.8 C227.6 383.1 228.0 384.4 228.3 385.7 C228.6 387.0 229.0 388.3 229.3 389.6 C229.6 390.9 229.9 392.2 230.3 393.5 C230.6 394.8 230.9 396.1 231.2 397.3 C231.5 398.6 231.8 399.9 232.1 401.2 C232.4 402.5 232.7 403.8 233.0 405.1 C233.3 406.4 233.6 407.7 233.9 409.0 C234.2 410.3 234.4 411.6 234.7 412.9 C235.0 414.2 235.3 415.5 235.6 416.8 C235.9 418.1 236.1 419.4 236.4 420.7 C236.7 422.0 237.0 423.3 237.3 424.6 C237.5 425.9 237.8 427.2 238.1 428.5 C238.4 429.8 238.6 431.1 238.9 432.4 C239.2 433.7 239.4 435.0 239.7 436.3 C240.0 437.7 240.2 439.0 240.5 440.3 C240.8 441.6 241.0 442.9 241.3 444.2 C241.5 445.5 241.8 446.8 242.0 448.1 C242.3 449.4 242.5 450.7 242.8 452.1 C243.0 453.4 243.2 454.7 243.5 456.0 C243.7 457.3 243.9 458.6 244.1 459.9 C244.4 461.2 244.6 462.6 244.8 463.9 C245.0 465.2 245.2 466.5 245.4 467.8 C245.6 469.1 245.8 470.5 246.0 471.8 C246.2 473.1 246.4 474.4 246.6 475.7 C246.8 477.1 246.9 478.4 247.1 479.7 C247.3 481.0 247.4 482.4 247.6 483.7 C247.7 485.0 247.9 486.3 248.0 487.7 C248.2 489.0 248.3 490.3 248.5 491.6 C248.6 493.0 248.7 494.3 248.9 495.6 C249.0 496.9 249.2 498.3 249.3 499.6 C249.5 500.9 249.6 502.2 249.8 503.6 C250.0 504.9 250.1 506.2 250.3 507.5 C250.5 508.8 250.6 510.2 250.8 511.5 C251.0 512.8 251.2 514.1 251.4 515.5 C251.6 516.8 251.9 518.1 252.1 519.4 C252.3 520.7 252.5 522.1 252.8 523.4 C253.0 524.7 253.3 526.0 253.5 527.3 C253.8 528.6 254.0 530.0 254.3 531.3 C254.6 532.6 254.8 533.9 255.1 535.2 C255.4 536.5 255.7 537.8 256.0 539.1 C256.3 540.4 256.6 541.7 256.9 543.0 C257.2 544.3 257.5 545.6 257.8 546.9 C258.1 548.2 258.5 549.5 258.8 550.8 C259.1 552.1 259.5 553.4 259.8 554.7 C260.1 556.0 260.5 557.2 260.8 558.5 C261.2 559.8 261.5 561.1 261.9 562.4 C262.2 563.7 262.6 564.9 263.0 566.2 C263.3 567.5 263.7 568.8 264.1 570.1 C264.4 571.3 264.8 572.6 265.2 573.9 C265.6 575.2 266.0 576.4 266.3 577.7 C266.7 579.0 267.1 580.2 267.5 581.5 C267.9 582.8 268.3 584.1 268.7 585.3 C269.1 586.6 269.5 587.9 269.9 589.1 C270.3 590.4 270.7 591.7 271.1 592.9 C271.5 594.2 272.0 595.4 272.4 596.7 C272.8 598.0 273.2 599.2 273.6 600.5 C274.0 601.8 274.5 603.0 274.9 604.3 C275.3 605.5 275.8 606.8 276.2 608.1 C276.6 609.3 277.1 610.6 277.5 611.8 C277.9 613.1 278.4 614.3 278.8 615.6 C279.3 616.9 279.7 618.1 280.2 619.4 C280.6 620.6 281.1 621.9 281.5 623.1 C282.0 624.4 282.4 625.7 282.9 626.9 C283.3 628.2 283.8 629.4 284.3 630.7 C284.7 631.9 285.2 633.2 285.6 634.4 C286.1 635.7 286.6 636.9 287.0 638.2 C287.5 639.4 288.0 640.7 288.4 642.0 C288.9 643.2 289.4 644.5 289.8 645.7 C290.3 647.0 290.8 648.2 291.3 649.5 C291.7 650.7 292.2 652.0 292.7 653.2 C293.1 654.5 293.6 655.7 294.1 657.0 C294.6 658.3 295.0 659.5 295.5 660.8 C296.0 662.0 296.5 663.3 297.0 664.5 C297.4 665.8 297.9 667.0 298.4 668.3 C298.9 669.5 299.4 670.8 299.9 672.0 C300.5 673.2 301.0 674.4 301.5 675.7 C302.1 676.9 302.6 678.1 303.2 679.3 C303.8 680.5 304.4 681.7 305.0 682.8 C305.6 684.0 306.2 685.2 306.9 686.3 C307.5 687.5 308.2 688.6 308.9 689.7 C309.7 690.8 310.4 691.9 311.2 693.0 C312.0 694.0 312.8 695.1 313.6 696.1 C314.4 697.2 315.3 698.2 316.1 699.2 C317.0 700.2 317.9 701.2 318.8 702.1 C319.7 703.1 320.7 704.1 321.6 705.0 C322.6 705.9 323.6 706.8 324.6 707.7 C325.6 708.6 326.6 709.5 327.6 710.4 C328.6 711.2 329.7 712.1 330.7 712.9 C331.8 713.7 332.9 714.5 333.9 715.3 C335.0 716.1 336.1 716.9 337.2 717.6 C338.4 718.3 339.5 719.1 340.6 719.8 C341.8 720.5 342.9 721.2 344.1 721.8 C345.3 722.5 346.4 723.1 347.6 723.7 C348.8 724.3 350.0 724.9 351.2 725.5 C352.4 726.1 353.7 726.6 354.9 727.1 C356.1 727.7 357.3 728.2 358.6 728.6 C359.8 729.1 361.1 729.5 362.4 730.0 C363.6 730.4 364.9 730.8 366.2 731.1 C367.4 731.5 368.7 731.9 370.0 732.2 C371.3 732.5 372.6 732.8 373.9 733.0 C375.2 733.3 376.5 733.5 377.8 733.7 C379.1 733.9 380.4 734.1 381.7 734.2 C383.1 734.4 384.4 734.5 385.7 734.6 C387.0 734.7 388.4 734.7 389.7 734.7 C391.0 734.8 392.3 734.8 393.7 734.7 C395.0 734.7 396.3 734.7 397.7 734.6 C399.0 734.5 400.3 734.4 401.7 734.3 C403.0 734.2 404.3 734.1 405.7 733.9 C407.0 733.8 408.3 733.6 409.7 733.5 C411.0 733.3 412.3 733.1 413.7 732.9 C415.0 732.7 416.3 732.5 417.7 732.3 C419.0 732.1 420.3 731.8 421.6 731.6 C423.0 731.4 424.3 731.1 425.6 730.8 C426.9 730.6 428.3 730.3 429.6 730.0 C430.9 729.8 432.2 729.5 433.5 729.2 C434.8 728.9 436.1 728.6 437.4 728.3 C438.7 728.0 440.0 727.6 441.3 727.3 C442.6 727.0 443.8 726.6 445.1 726.3 C446.4 725.9 447.7 725.6 448.9 725.2 C450.2 724.8 451.4 724.4 452.7 724.1 C454.0 723.7 455.2 723.3 456.5 722.8 C457.7 722.4 458.9 722.0 460.2 721.6 C461.4 721.1 462.7 720.7 463.9 720.2 C465.1 719.8 466.4 719.3 467.6 718.8 C468.8 718.4 470.1 717.9 471.3 717.4 C472.5 716.9 473.7 716.3 475.0 715.8 C476.2 715.3 477.4 714.7 478.6 714.2 C479.9 713.6 481.1 713.1 482.3 712.5 C483.5 711.9 484.8 711.4 486.0 710.8 C487.2 710.2 488.5 709.7 489.7 709.1 C490.9 708.5 492.1 708.0 493.4 707.4 C494.6 706.9 495.9 706.4 497.1 705.8 C498.4 705.3 499.6 704.8 500.8 704.3 C502.1 703.8 503.4 703.3 504.6 702.9 C505.9 702.4 507.1 702.0 508.4 701.6 C509.7 701.2 510.9 700.8 512.2 700.4 C513.5 700.1 514.8 699.7 516.1 699.4 C517.4 699.1 518.7 698.8 519.9 698.6 C521.2 698.3 522.5 698.1 523.8 697.9 C525.1 697.7 526.5 697.5 527.8 697.4 C529.1 697.3 530.4 697.1 531.7 697.1 C533.0 697.0 534.3 696.9 535.7 696.9 C537.0 696.9 538.3 696.9 539.7 697.0 C541.0 697.0 542.3 697.1 543.7 697.2 C545.0 697.3 546.3 697.5 547.6 697.7 C549.0 697.8 550.3 698.1 551.6 698.3 C553.0 698.6 554.3 698.8 555.6 699.1 C556.9 699.5 558.2 699.8 559.5 700.2 C560.8 700.6 562.0 701.0 563.3 701.4 C564.6 701.9 565.8 702.3 567.1 702.9 C568.3 703.4 569.5 703.9 570.7 704.5 C571.9 705.1 573.1 705.7 574.2 706.3 C575.4 706.9 576.6 707.5 577.7 708.2 C578.9 708.8 580.0 709.4 581.2 710.1 C582.4 710.7 583.6 711.3 584.8 711.9 C586.0 712.4 587.2 713.0 588.4 713.5 C589.7 714.0 590.9 714.5 592.2 714.9 C593.5 715.3 594.8 715.6 596.1 715.9 C597.5 716.1 598.8 716.3 600.2 716.4 C601.5 716.5 602.9 716.5 604.3 716.4 C605.6 716.3 607.0 716.1 608.3 715.8 C609.6 715.5 610.9 715.1 612.1 714.6 C613.3 714.1 614.5 713.5 615.6 712.7 C616.6 712.0 617.6 711.2 618.5 710.3 C619.4 709.4 620.2 708.4 621.0 707.3 C621.8 706.3 622.5 705.2 623.2 704.0 C623.9 702.9 624.6 701.7 625.2 700.5 C625.8 699.4 626.4 698.2 627.0 697.0 C627.6 695.8 628.2 694.6 628.8 693.3 C629.3 692.1 629.8 690.9 630.4 689.7 C630.9 688.4 631.4 687.2 631.9 685.9 C632.4 684.7 632.9 683.4 633.3 682.2 C633.8 680.9 634.2 679.7 634.7 678.4 C635.1 677.1 635.5 675.9 635.9 674.6 C636.4 673.3 636.8 672.0 637.2 670.8 C637.6 669.5 638.0 668.2 638.4 666.9 C638.7 665.6 639.1 664.3 639.5 663.0 C639.9 661.8 640.2 660.5 640.6 659.2 C641.0 657.9 641.3 656.6 641.7 655.3 C642.0 654.0 642.4 652.8 642.7 651.5 C643.1 650.2 643.5 648.9 643.8 647.6 C644.1 646.3 644.5 645.1 644.8 643.8 C645.2 642.5 645.5 641.2 645.9 639.9 C646.2 638.6 646.5 637.4 646.9 636.1 C647.2 634.8 647.5 633.5 647.8 632.2 C648.2 630.9 648.5 629.6 648.8 628.4 C649.1 627.1 649.4 625.8 649.7 624.5 C650.1 623.2 650.4 621.9 650.7 620.6 C651.0 619.3 651.3 618.1 651.6 616.8 C651.9 615.5 652.2 614.2 652.5 612.9 C652.8 611.6 653.1 610.3 653.4 609.0 C653.6 607.7 653.9 606.4 654.2 605.1 C654.5 603.8 654.8 602.5 655.0 601.2 C655.3 599.9 655.6 598.5 655.9 597.2 C656.1 595.9 656.4 594.6 656.7 593.3 C656.9 592.0 657.2 590.7 657.4 589.3 C657.7 588.0 657.9 586.7 658.2 585.4 C658.5 584.1 658.7 582.7 659.0 581.4 C659.2 580.1 659.5 578.8 659.7 577.5 C660.0 576.1 660.2 574.8 660.5 573.5 C660.7 572.2 660.9 570.8 661.2 569.5 C661.4 568.2 661.7 566.9 661.9 565.5 C662.2 564.2 662.4 562.9 662.7 561.6 C662.9 560.3 663.2 558.9 663.4 557.6 C663.7 556.3 663.9 555.0 664.2 553.7 C664.4 552.3 664.7 551.0 664.9 549.7 C665.2 548.4 665.4 547.1 665.7 545.8 C666.0 544.5 666.2 543.2 666.5 541.9 C666.7 540.6 667.0 539.3 667.3 538.0 C667.6 536.7 667.8 535.4 668.1 534.1 C668.4 532.8 668.7 531.5 669.0 530.2 C669.3 529.0 669.6 527.7 670.0 526.4 C670.3 525.1 670.7 523.9 671.0 522.6 C671.4 521.4 671.8 520.1 672.3 518.9 C672.7 517.6 673.1 516.4 673.6 515.1 C674.1 513.9 674.6 512.7 675.2 511.4 C675.7 510.2 676.3 509.0 676.9 507.8 C677.6 506.6 678.2 505.4 678.9 504.2 C679.5 503.1 680.2 501.9 680.9 500.7 C681.6 499.5 682.3 498.4 683.1 497.2 C683.8 496.1 684.6 495.0 685.3 493.8 C686.1 492.7 686.9 491.6 687.6 490.5 C688.4 489.4 689.2 488.3 689.9 487.3 C690.7 486.2 691.5 485.1 692.3 484.1 C693.1 483.0 693.9 482.0 694.8 481.0 C695.6 480.0 696.4 479.0 697.3 478.0 C698.2 477.1 699.1 476.1 700.0 475.2 C700.9 474.3 701.9 473.4 702.9 472.5 C703.9 471.7 704.9 470.8 706.0 470.0 C707.0 469.2 708.1 468.4 709.2 467.7 C710.3 466.9 711.5 466.2 712.6 465.5 C713.8 464.9 715.0 464.2 716.2 463.6 C717.4 463.0 718.6 462.4 719.8 461.9 C721.0 461.4 722.2 460.9 723.5 460.4 C724.7 460.0 726.0 459.6 727.3 459.2 C728.5 458.9 729.8 458.5 731.1 458.2 C732.4 458.0 733.7 457.7 735.1 457.5 C736.4 457.3 737.7 457.2 739.1 457.1 C740.4 457.0 741.8 456.9 743.1 456.9 C744.5 456.9 745.8 457.0 747.2 457.1 C748.5 457.1 749.9 457.3 751.2 457.5 C752.5 457.6 753.8 457.9 755.1 458.1 C756.4 458.4 757.7 458.7 759.0 459.1 C760.3 459.4 761.5 459.8 762.8 460.3 C764.0 460.7 765.3 461.2 766.5 461.7 C767.7 462.2 768.9 462.7 770.1 463.3 C771.3 463.9 772.5 464.5 773.7 465.2 C774.8 465.8 776.0 466.5 777.1 467.2 C778.2 467.9 779.3 468.6 780.4 469.4 C781.5 470.1 782.6 470.9 783.6 471.7 C784.7 472.5 785.8 473.3 786.8 474.1 C787.8 475.0 788.8 475.8 789.8 476.7 C790.9 477.6 791.8 478.5 792.8 479.4 C793.8 480.3 794.8 481.2 795.8 482.2 C796.7 483.1 797.7 484.1 798.6 485.0 C799.6 486.0 800.5 487.0 801.4 487.9 C802.4 488.9 803.3 489.9 804.2 490.9 C805.1 491.8 806.0 492.8 806.9 493.8 C807.8 494.8 808.7 495.8 809.6 496.8 C810.5 497.8 811.4 498.8 812.3 499.8 C813.2 500.8 814.0 501.8 814.9 502.8 C815.8 503.8 816.6 504.8 817.5 505.9 C818.4 506.9 819.2 507.9 820.1 508.9 C820.9 509.9 821.8 510.9 822.7 512.0 C823.5 513.0 824.4 514.0 825.2 515.0 C826.0 516.1 826.9 517.1 827.7 518.1 C828.6 519.1 829.4 520.2 830.2 521.2 C831.1 522.2 831.9 523.3 832.7 524.3 C833.6 525.3 834.4 526.4 835.2 527.4 C836.1 528.4 836.9 529.5 837.7 530.5 C838.5 531.5 839.4 532.6 840.2 533.6 C841.0 534.7 841.8 535.7 842.7 536.7 C843.5 537.8 844.3 538.8 845.2 539.8 C846.0 540.9 846.8 541.9 847.6 543.0 C848.5 544.0 849.3 545.0 850.1 546.1 C851.0 547.1 851.8 548.1 852.6 549.2 C853.5 550.2 854.3 551.2 855.1 552.3 C856.0 553.3 856.8 554.3 857.6 555.4 C858.5 556.4 859.3 557.4 860.2 558.5 C861.0 559.5 861.9 560.5 862.7 561.5 C863.6 562.6 864.4 563.6 865.3 564.6 C866.2 565.6 867.0 566.7 867.9 567.7 C868.8 568.7 869.6 569.7 870.5 570.7 C871.4 571.7 872.3 572.7 873.2 573.7 C874.1 574.8 874.9 575.8 875.8 576.8 C876.7 577.8 877.6 578.8 878.6 579.8 C879.5 580.8 880.4 581.8 881.3 582.7 C882.2 583.7 883.1 584.7 884.1 585.7 C885.0 586.6 885.9 587.6 886.9 588.6 C887.8 589.5 888.7 590.5 889.7 591.4 C890.6 592.3 891.6 593.3 892.5 594.2 C893.5 595.1 894.5 596.0 895.4 596.9 C896.4 597.8 897.4 598.7 898.3 599.6 C899.3 600.5 900.3 601.3 901.3 602.2 C902.3 603.1 903.3 604.0 904.3 604.8 C905.2 605.7 906.2 606.6 907.2 607.4 C908.2 608.3 909.3 609.1 910.3 610.0 C911.3 610.9 912.3 611.7 913.3 612.6 C914.3 613.5 915.3 614.3 916.4 615.2 C917.4 616.0 918.4 616.9 919.4 617.7 C920.5 618.6 921.5 619.5 922.5 620.3 C923.6 621.2 924.6 622.0 925.7 622.9 C926.7 623.8 927.7 624.6 928.8 625.5 C929.8 626.3 930.9 627.2 931.9 628.1 C932.9 628.9 934.0 629.8 935.0 630.6 C936.1 631.5 937.1 632.4 938.2 633.2 C939.2 634.1 940.2 634.9 941.3 635.8 C942.3 636.7 943.4 637.5 944.4 638.4 C945.4 639.3 946.5 640.1 947.5 641.0 C948.5 641.8 949.6 642.7 950.6 643.5 C951.6 644.4 952.7 645.3 953.7 646.1 C954.7 646.9 955.8 647.8 956.8 648.6 C957.8 649.5 958.8 650.3 959.8 651.1 C960.8 651.9 961.8 652.7 962.8 653.6 C963.9 654.4 965.3 655.6 965.8 656.0"/>
</g>
<g class="tick">
<text x="105.0" y="780.5" text-anchor="middle" textLength="33.4" lengthAdjust="spacingAndGlyphs">400</text>
<text x="177.1" y="780.5" text-anchor="middle" textLength="33.4" lengthAdjust="spacingAndGlyphs">450</text>
<text x="248.9" y="780.5" text-anchor="middle" textLength="33.4" lengthAdjust="spacingAndGlyphs">500</text>
<text x="319.5" y="780.5" text-anchor="middle" textLength="33.4" lengthAdjust="spacingAndGlyphs">550</text>
<text x="390.9" y="780.5" text-anchor="middle" textLength="33.4" lengthAdjust="spacingAndGlyphs">600</text>
<text x="462.3" y="780.5" text-anchor="middle" textLength="33.4" lengthAdjust="spacingAndGlyphs">650</text>
<text x="533.2" y="780.5" text-anchor="middle" textLength="33.4" lengthAdjust="spacingAndGlyphs">700</text>
<text x="604.8" y="780.5" text-anchor="middle" textLength="33.4" lengthAdjust="spacingAndGlyphs">750</text>
<text x="675.9" y="780.5" text-anchor="middle" textLength="33.4" lengthAdjust="spacingAndGlyphs">800</text>
<text x="747.2" y="780.5" text-anchor="middle" textLength="33.4" lengthAdjust="spacingAndGlyphs">850</text>
<text x="818.9" y="780.5" text-anchor="middle" textLength="33.4" lengthAdjust="spacingAndGlyphs">900</text>
<text x="889.1" y="780.5" text-anchor="middle" textLength="33.4" lengthAdjust="spacingAndGlyphs">950</text>
<text x="958.0" y="780.5" text-anchor="middle" textLength="44.5" lengthAdjust="spacingAndGlyphs">1000</text>
<text x="91.2" y="193.8" text-anchor="end" textLength="33.4" lengthAdjust="spacingAndGlyphs">100</text>
<text x="91.2" y="249.6" text-anchor="end" textLength="22.3" lengthAdjust="spacingAndGlyphs">90</text>
<text x="91.2" y="305.3" text-anchor="end" textLength="22.3" lengthAdjust="spacingAndGlyphs">80</text>
<text x="91.2" y="361.0" text-anchor="end" textLength="22.3" lengthAdjust="spacingAndGlyphs">70</text>
<text x="91.2" y="416.8" text-anchor="end" textLength="22.3" lengthAdjust="spacingAndGlyphs">60</text>
<text x="91.2" y="472.5" text-anchor="end" textLength="22.3" lengthAdjust="spacingAndGlyphs">50</text>
<text x="91.2" y="528.2" text-anchor="end" textLength="22.3" lengthAdjust="spacingAndGlyphs">40</text>
<text x="91.2" y="584.0" text-anchor="end" textLength="22.3" lengthAdjust="spacingAndGlyphs">30</text>
<text x="91.2" y="639.7" text-anchor="end" textLength="22.3" lengthAdjust="spacingAndGlyphs">20</text>
<text x="91.2" y="695.4" text-anchor="end" textLength="22.3" lengthAdjust="spacingAndGlyphs">10</text>
<text x="91.2" y="751.1" text-anchor="end" textLength="11.1" lengthAdjust="spacingAndGlyphs">0</text>
</g>
<text class="axis" font-size="23.7" x="533.75" y="821.75" text-anchor="middle" textLength="206" lengthAdjust="spacingAndGlyphs">Wave Length [nm]</text>
<text class="axis" font-size="23.7" transform="translate(48 466.7) rotate(-90)" text-anchor="middle" textLength="272.5" lengthAdjust="spacingAndGlyphs">Quantum Efficiency (%)</text>
</svg>
</body>
</html>
